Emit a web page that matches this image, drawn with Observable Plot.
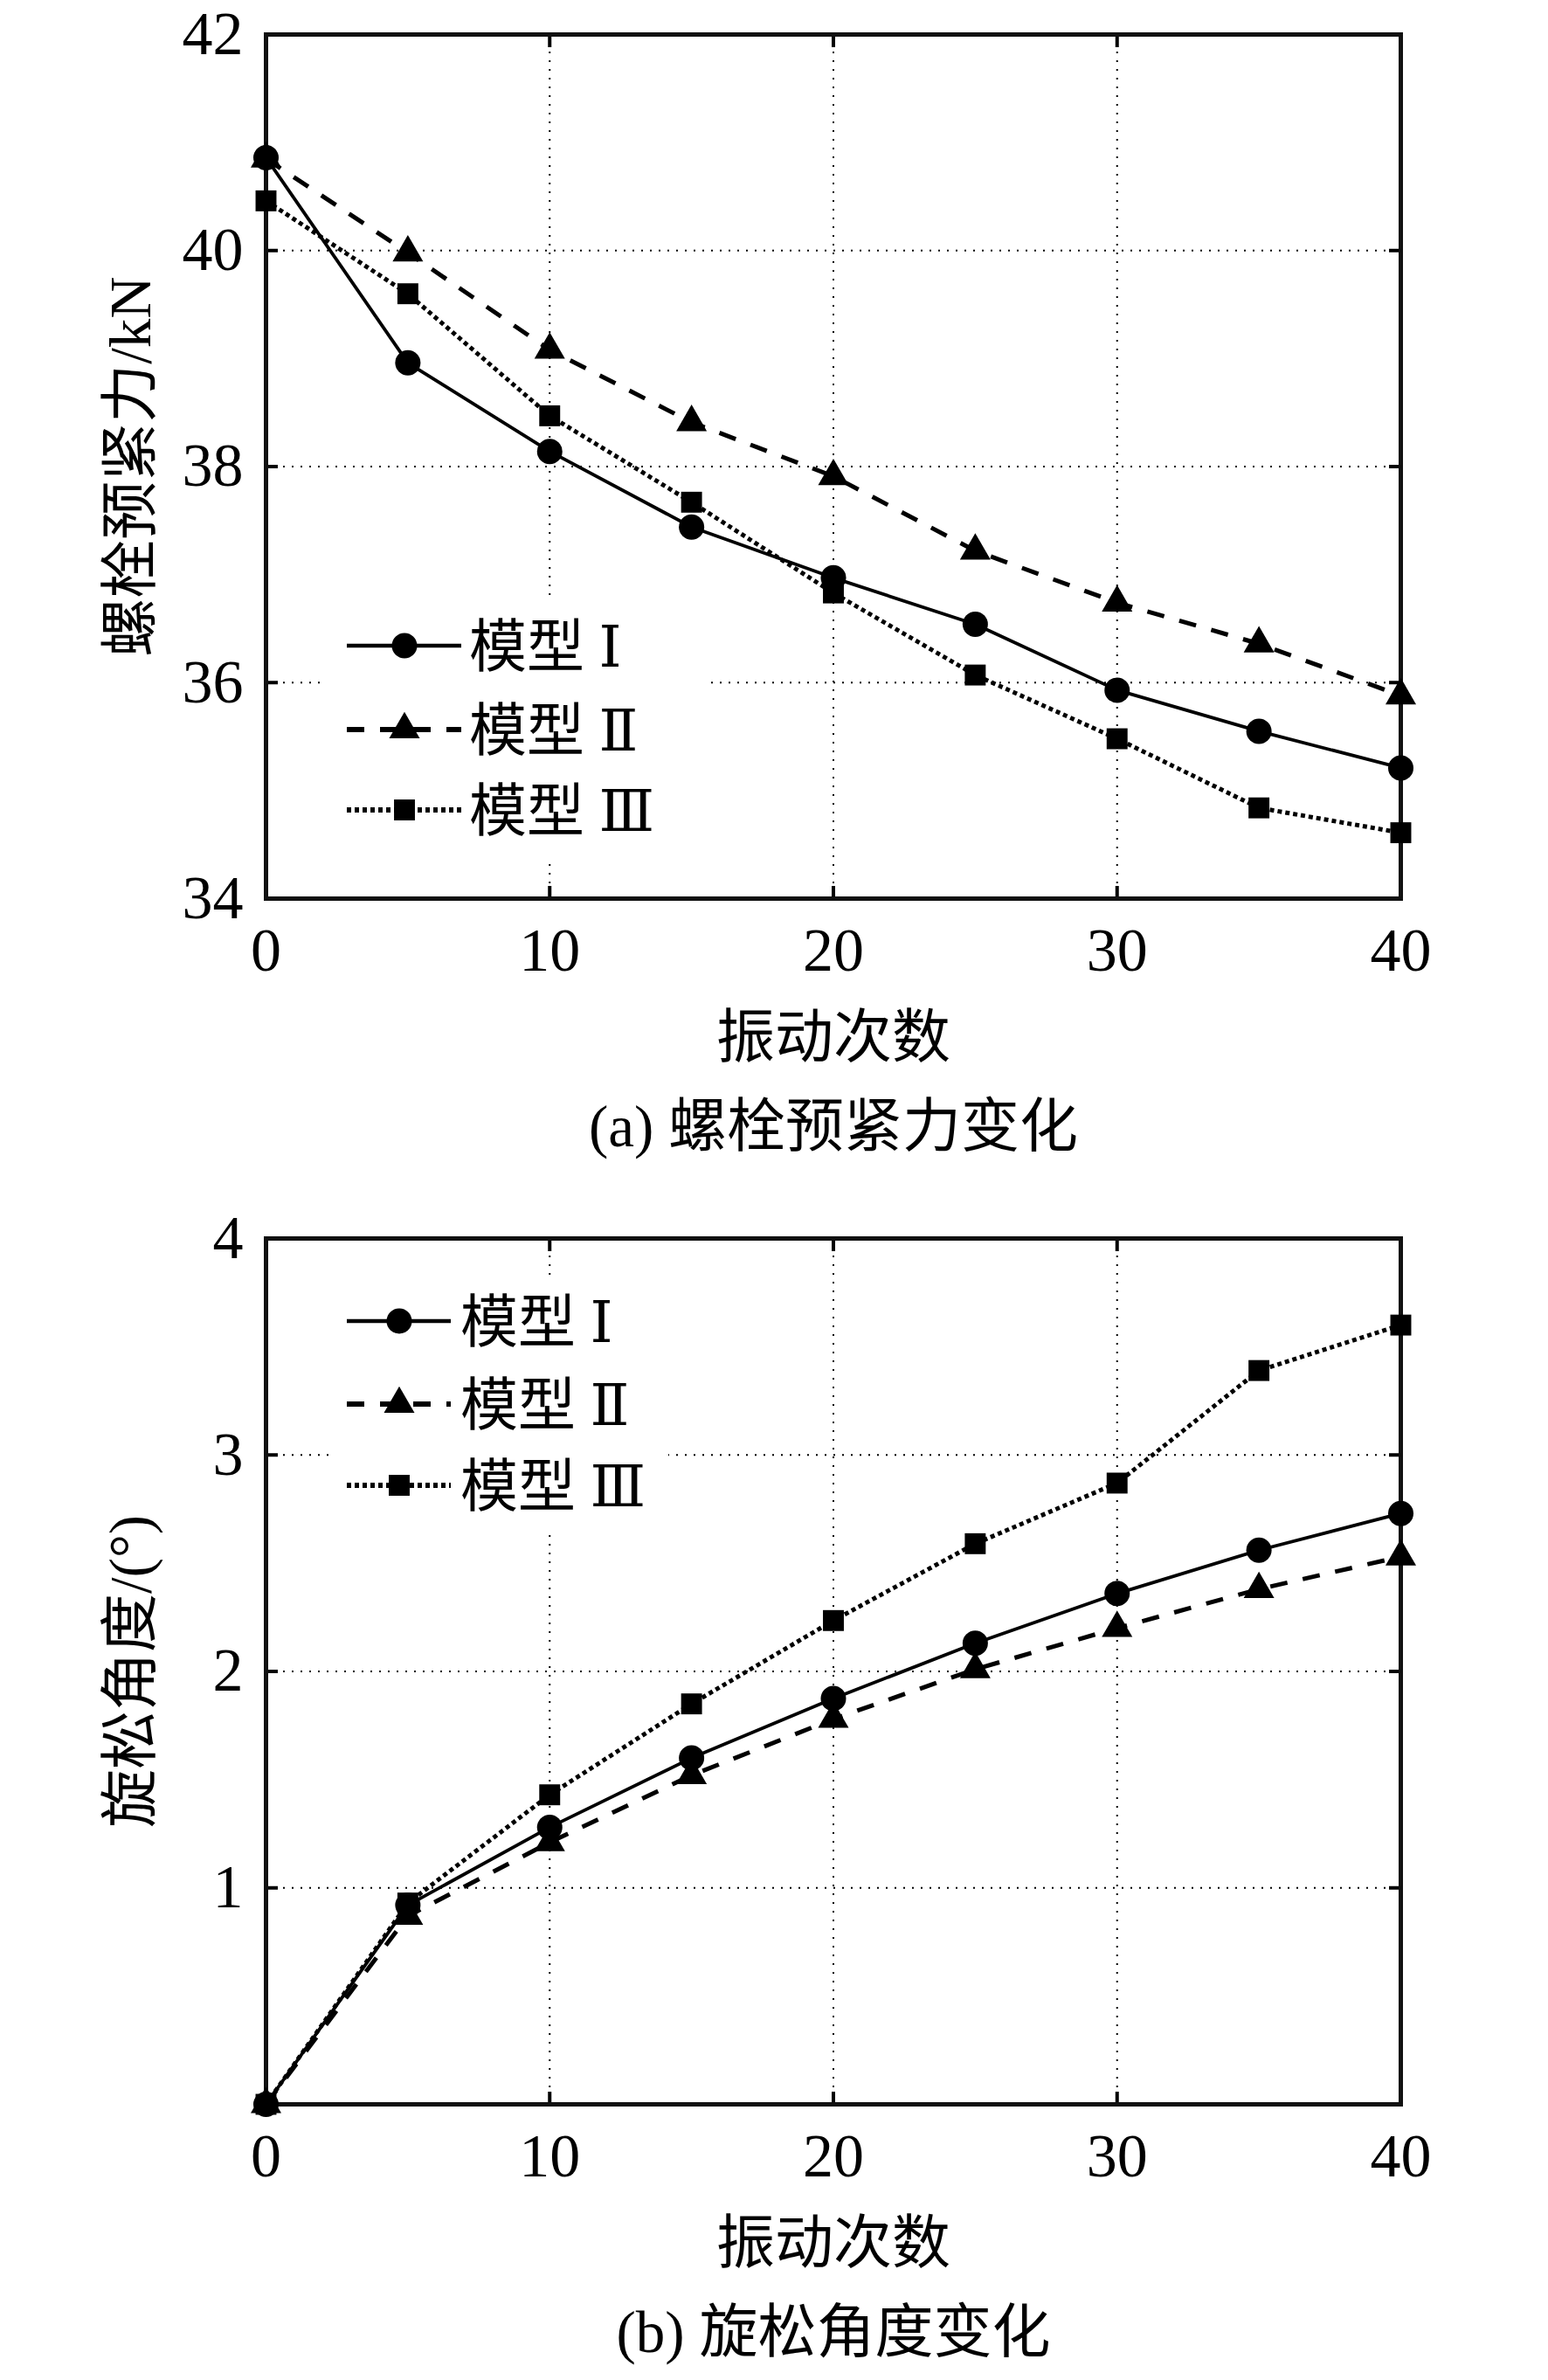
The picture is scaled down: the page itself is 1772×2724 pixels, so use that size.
<!DOCTYPE html>
<html><head><meta charset="utf-8">
<script src="https://cdn.jsdelivr.net/npm/d3@7"></script>
<script src="https://cdn.jsdelivr.net/npm/@observablehq/plot@0.6"></script>
<style>
html,body{margin:0;padding:0;background:#fff;}
#wrap{position:relative;width:1772px;height:2724px;background:#fff;overflow:hidden;}
#wrap > svg{position:absolute;left:0;}
</style></head><body><div id="wrap"></div>
<script>
// ---- data ----
const vib = [0,5,10,15,20,25,30,35,40];
const xTicks = [0,10,20,30,40];
const xGrid = [10,20,30];
const seriesNames = ["模型 Ⅰ","模型 Ⅱ","模型 Ⅲ"];
const forceI   = [40.86,38.96,38.14,37.44,36.97,36.54,35.93,35.55,35.21];
const forceII  = [40.85,39.98,39.08,38.41,37.91,37.22,36.74,36.36,35.88];
const forceIII = [40.46,39.60,38.47,37.67,36.83,36.07,35.48,34.84,34.61];
const angleI   = [0,0.92,1.28,1.60,1.875,2.13,2.36,2.56,2.73];
const angleII  = [0,0.87,1.21,1.52,1.78,2.01,2.20,2.38,2.53];
const angleIII = [0,0.93,1.43,1.85,2.235,2.59,2.87,3.39,3.60];
const forceTicks = [34,36,38,40,42];
const forceGrid = [36,38,40];
const angleTicks = [1,2,3,4];
const angleGrid = [1,2,3];
const xTitle = "振动次数";
const yTitleA = "螺栓预紧力/kN";
const yTitleB = "旋松角度/(°)";
const captionA = "(a) 螺栓预紧力变化";
const captionB = "(b) 旋松角度变化";

// ---- styles ----
const FONT = "'Liberation Serif','DejaVu Serif','Noto Sans CJK SC',serif";
const styles = [
  {symbol:"circle",   r:14.5, dash:null,    width:3.8},
  {symbol:"triangle", r:13,   dash:"20,18", width:5},
  {symbol:"square",   r:13.5, dash:"5,4",   width:5}
];
const W = 1772;
const wrap = document.getElementById("wrap");

function rowsOf(values, name){ return vib.map((x,i)=>({x, y: values[i], s: name})); }

function makeChart({top, height, marginTop, marginBottom, yDomain, yTickLabels, yGridVals, series, yTitle, caption}){
  const marks = [
    Plot.gridY(yGridVals, {stroke:"black", strokeOpacity:1, strokeWidth:2, strokeDasharray:"2,8"}),
    Plot.gridX(xGrid, {stroke:"black", strokeOpacity:1, strokeWidth:2, strokeDasharray:"2,8"}),
    Plot.axisX(xTicks, {anchor:"bottom", tickSize:-14, tickPadding:47, fontSize:70, strokeWidth:4, label:null, tickFormat:d=>String(d)}),
    Plot.axisX(xGrid, {anchor:"top", tickSize:-14, strokeWidth:4, label:null, tickFormat:()=>""}),
    Plot.axisY(yTickLabels, {anchor:"left", tickSize:-14, tickPadding:40, fontSize:70, strokeWidth:4, label:null, tickFormat:d=>String(d)}),
    Plot.axisY(yGridVals, {anchor:"right", tickSize:-14, strokeWidth:4, label:null, tickFormat:()=>""}),
    Plot.frame({stroke:"#111", strokeWidth:5}),
  ];
  series.forEach((vals, k) => {
    const st = styles[k];
    const rows = rowsOf(vals, seriesNames[k]);
    marks.push(Plot.line(rows, {x:"x", y:"y", stroke:"black", strokeWidth:st.width, strokeDasharray:st.dash, strokeLinecap:"butt"}));
  });
  series.forEach((vals, k) => {
    const st = styles[k];
    const rows = rowsOf(vals, seriesNames[k]);
    marks.push(Plot.dot(rows, {x:"x", y:"y", symbol:st.symbol, r:st.r, fill:"black", stroke:"none"}));
  });
  marks.push(Plot.text([xTitle], {text:d=>d, frameAnchor:"bottom", dy:160, lineAnchor:"middle", fontSize:67}));
  marks.push(Plot.text([caption], {text:d=>d, frameAnchor:"bottom", dy:262, lineAnchor:"middle", fontSize:67}));
  marks.push(Plot.text([yTitle], {text:d=>d, frameAnchor:"left", dx:-154, rotate:-90, textAnchor:"middle", lineAnchor:"middle", fontSize:67}));
  const svg = Plot.plot({
    width: W, height,
    marginTop, marginBottom, marginLeft:304, marginRight:169,
    x:{domain:[0,40]},
    y:{domain:yDomain},
    style:{fontFamily:FONT, background:"white", color:"black", overflow:"visible"},
    marks
  });
  svg.style.top = top + "px";
  wrap.appendChild(svg);
}

makeChart({top:0, height:1360, marginTop:39, marginBottom:332, yDomain:[34,42],
  yTickLabels:forceTicks, yGridVals:forceGrid, series:[forceI, forceII, forceIII],
  yTitle:yTitleA, caption:captionA});
makeChart({top:1360, height:1364, marginTop:57, marginBottom:316, yDomain:[0,4],
  yTickLabels:angleTicks, yGridVals:angleGrid, series:[angleI, angleII, angleIII],
  yTitle:yTitleB, caption:captionB});

// ---- legends (overlay) ----
const leg = d3.select(wrap).append("svg")
  .attr("width", W).attr("height", 2724)
  .style("top","0px").style("pointer-events","none");
const legends = [
  {box:[370,688,440,300], x0:397, x1:528, mx:463, tx:537, rows:[739,835,927]},
  {box:[377,1465,388,290], x0:397, x1:516, mx:457, tx:527, rows:[1512,1607,1700]}
];
const sym = {circle:d3.symbolCircle, triangle:d3.symbolTriangle, square:d3.symbolSquare};
legends.forEach(L => {
  leg.append("rect").attr("x",L.box[0]).attr("y",L.box[1]).attr("width",L.box[2]).attr("height",L.box[3]).attr("fill","white");
  L.rows.forEach((y,k) => {
    const st = styles[k];
    leg.append("line").attr("x1",L.x0).attr("x2",L.x1).attr("y1",y).attr("y2",y)
      .attr("stroke","black").attr("stroke-width",st.width+0.8).attr("stroke-dasharray",st.dash);
    leg.append("path").attr("transform",`translate(${L.mx},${y})`)
      .attr("d", d3.symbol(sym[st.symbol], Math.PI*st.r*st.r)()).attr("fill","black");
    leg.append("text").attr("x",L.tx).attr("y",y).attr("dy","0.36em")
      .attr("font-family",FONT).attr("font-size",66).attr("fill","black").text(seriesNames[k]);
  });
});
</script></body></html>
